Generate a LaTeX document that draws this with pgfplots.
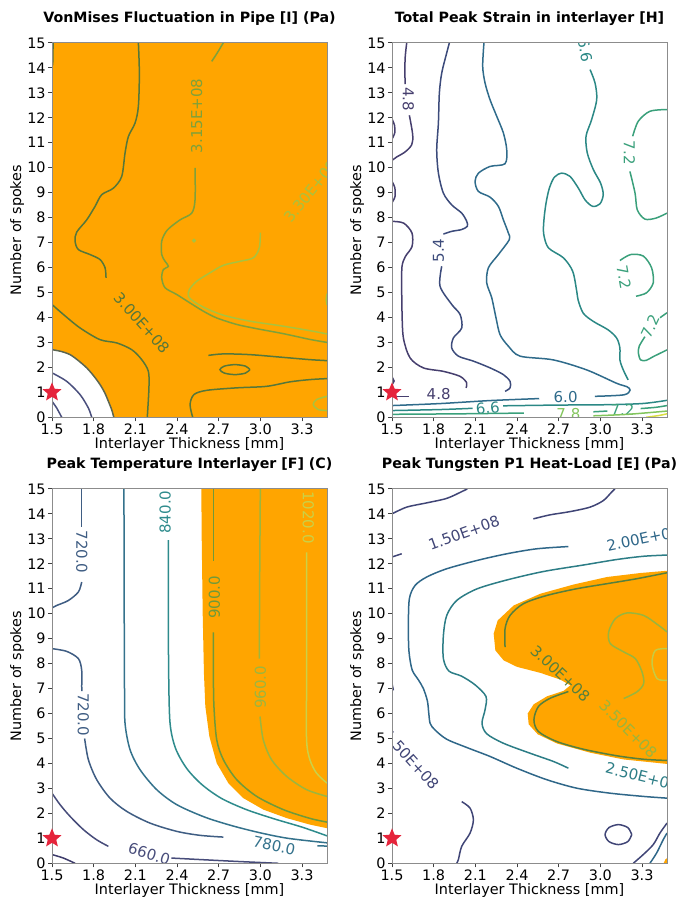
\documentclass[border=0pt]{standalone}
\usepackage{fontspec}
\setmainfont{DejaVu Sans}
\usepackage{pgfplots}
\pgfplotsset{compat=1.18}
\definecolor{orng}{HTML}{FFA500}
\definecolor{redstar}{HTML}{E5243B}
% panel 1
\definecolor{aDark}{HTML}{56773A}
\definecolor{aMid}{HTML}{7EA13A}
\definecolor{aLight}{HTML}{A9C23E}
\definecolor{aBnd}{HTML}{5C6650}
\definecolor{aBlue}{HTML}{4A4F7D}
% panel 2
\definecolor{s48}{HTML}{463F6E}
\definecolor{s54}{HTML}{3C4B7B}
\definecolor{s60}{HTML}{2F6B8B}
\definecolor{s66}{HTML}{2B8885}
\definecolor{s72}{HTML}{3AA07B}
\definecolor{s78}{HTML}{82C55C}
\definecolor{s84}{HTML}{D9DD42}
% panel 3
\definecolor{t600}{HTML}{3E3C6B}
\definecolor{t660}{HTML}{474C7A}
\definecolor{t720}{HTML}{3F5D83}
\definecolor{t780}{HTML}{34728C}
\definecolor{t840}{HTML}{2E8B8C}
\definecolor{t900}{HTML}{6F9A3A}
\definecolor{t960}{HTML}{9CB63E}
\definecolor{t1020}{HTML}{CBD146}
% panel 4
\definecolor{u150}{HTML}{404576}
\definecolor{u200}{HTML}{2F6789}
\definecolor{u250}{HTML}{2C7D86}
\definecolor{u300}{HTML}{56803D}
\definecolor{u350}{HTML}{9AB53C}
\definecolor{u400}{HTML}{C7CB42}

\newcommand\tlfont{\fontsize{7.2}{8}\selectfont}
\newcommand\clfont{\fontsize{7.5}{8}\selectfont}
\newcommand\ttfont{\bfseries\fontsize{7.1}{8.5}\selectfont}

\pgfdeclareplotmark{fstar}{%
  \pgfpathmoveto{\pgfpointpolar{90}{1\pgfplotmarksize}}%
  \pgfpathlineto{\pgfpointpolar{126}{0.45\pgfplotmarksize}}%
  \pgfpathlineto{\pgfpointpolar{162}{1\pgfplotmarksize}}%
  \pgfpathlineto{\pgfpointpolar{198}{0.45\pgfplotmarksize}}%
  \pgfpathlineto{\pgfpointpolar{234}{1\pgfplotmarksize}}%
  \pgfpathlineto{\pgfpointpolar{270}{0.45\pgfplotmarksize}}%
  \pgfpathlineto{\pgfpointpolar{306}{1\pgfplotmarksize}}%
  \pgfpathlineto{\pgfpointpolar{342}{0.45\pgfplotmarksize}}%
  \pgfpathlineto{\pgfpointpolar{18}{1\pgfplotmarksize}}%
  \pgfpathlineto{\pgfpointpolar{54}{0.45\pgfplotmarksize}}%
  \pgfpathclose
  \pgfusepathqfillstroke
}

\tikzset{lab/.style={inner sep=0pt, font=\clfont}}

\pgfplotsset{
 every axis title/.style={at={(axis description cs:0.5,1.0535)}, anchor=base, font=\ttfont},
 panel/.style={
  scale only axis, width=137.5pt, height=187.2pt,
  anchor=south west,
  xmin=1.5, xmax=3.48, ymin=0, ymax=15,
  xtick={1.5,1.8,2.1,2.4,2.7,3.0,3.3},
  xticklabels={1.5,1.8,2.1,2.4,2.7,3.0,3.3},
  ytick={0,1,2,3,4,5,6,7,8,9,10,11,12,13,14,15},
  yticklabels={0,1,2,3,4,5,6,7,8,9,10,11,12,13,14,15},
  tick pos=left, tick align=outside,
  major tick length=2pt,
  every tick/.style={black!75, line width=0.4pt},
  axis line style={black!45, line width=0.5pt},
  tick label style={font=\tlfont},
  yticklabel style={anchor=east, inner sep=1pt},
  xticklabel style={anchor=north, inner sep=1pt},
  xlabel={Interlayer Thickness [mm]}, ylabel={Number of spokes},
  label style={font=\tlfont},
  xlabel style={at={(axis description cs:0.5,-0.083)}, anchor=base},
  ylabel style={at={(axis description cs:-0.1127,0.5)}, anchor=base},
  every axis plot/.append style={line width=0.75pt},
  axis on top,
 },
}

\begin{document}
\begin{tikzpicture}
\useasboundingbox (0,0) rectangle (339.5pt,449.5pt);

% ================= Panel 1 =================
\begin{axis}[panel, at={(26pt,240.85pt)}, title={VonMises Fluctuation in Pipe [I] (Pa)}]
\addplot[fill=orng, draw=none] coordinates {(1.5,15)(3.5,15)(3.5,0)(1.945,0)(1.93,0.3)(1.906,0.64)(1.88,0.98)(1.846,1.31)(1.80,1.66)(1.75,1.98)(1.69,2.27)(1.63,2.51)(1.565,2.64)(1.5,2.71)};
\addplot[aBnd, smooth] coordinates {(1.5,2.71)(1.565,2.64)(1.63,2.51)(1.69,2.27)(1.75,1.98)(1.80,1.66)(1.846,1.31)(1.88,0.98)(1.906,0.64)(1.93,0.3)(1.945,0)};
\addplot[aBlue, smooth] coordinates {(1.5,1.78)(1.606,1.44)(1.702,0.91)(1.762,0.37)(1.786,0)};
\addplot[aBlue, smooth] coordinates {(1.5,0.64)(1.534,0.37)(1.57,0)};
\addplot[aDark] coordinates {(1.508,15)(1.505,14.1)};
\addplot[aDark, smooth] coordinates {(2.122,15)(2.129,13.79)(2.122,12.46)(2.098,11.79)(2.05,11.25)(2.026,10.59)(2.002,9.65)(1.942,9.18)(1.858,8.92)(1.81,8.45)(1.75,7.91)(1.678,7.42)(1.666,7.06)(1.69,6.72)(1.774,6.52)(1.846,6.32)(1.882,5.99)(1.889,5.59)};
\addplot[aDark, smooth] coordinates {(1.5,4.52)(1.582,4.12)(1.702,3.58)(1.846,3.11)(1.966,2.98)(2.074,2.71)(2.146,2.31)(2.194,1.84)(2.198,1.17)(2.186,0)};
\node[lab, rotate=-48, text=aDark] at (axis cs:2.146,3.78) {3.00E+08};
\addplot[aMid, smooth] coordinates {(2.733,15)(2.69,14.6)(2.65,14.26)};
\node[lab, rotate=90, text=aMid] at (axis cs:2.542,12.08) {3.15E+08};
\addplot[aMid, smooth] coordinates {(2.53,9.99)(2.53,8.72)(2.506,8.18)(2.422,7.91)(2.33,7.5)(2.29,7.06)(2.29,6.52)(2.314,6.25)(2.338,6.05)(2.302,5.92)(2.29,5.59)(2.314,5.19)(2.398,4.92)(2.494,4.58)(2.59,4.25)(2.686,3.98)(2.83,3.72)(2.974,3.55)(3.166,3.35)(3.357,3.12)(3.48,3.0)};
\addplot[aLight, smooth] coordinates {(3.0,7.4)(2.993,6.79)(2.95,6.39)(2.854,6.25)(2.734,6.09)(2.638,5.79)(2.542,5.45)(2.489,5.12)(2.482,4.85)(2.518,4.65)(2.602,4.38)(2.734,4.09)(2.926,3.85)(3.166,3.65)(3.357,3.47)(3.48,3.34)};
\addplot[aLight, only marks, mark=*, mark size=0.6pt] coordinates {(2.522,7.08)};
\node[lab, rotate=51, text=aLight] at (axis cs:3.36,9.06) {3.30E+08};
\addplot[aLight] coordinates {(3.48,4.95)(3.474,4.72)(3.48,4.5)};
\addplot[aDark, smooth] coordinates {(2.626,2.48)(2.734,2.54)(2.926,2.51)(3.166,2.40)(3.357,2.31)(3.48,2.27)};
\addplot[aDark, smooth] coordinates {(2.925,1.91)(2.893,2.05)(2.817,2.11)(2.741,2.05)(2.709,1.91)(2.741,1.77)(2.817,1.71)(2.893,1.77)(2.925,1.91)};
\addplot[aDark, smooth] coordinates {(2.513,0)(2.494,0.51)(2.522,0.91)(2.614,1.08)(2.83,1.18)(3.045,1.24)(3.213,1.42)(3.357,1.51)(3.48,1.55)};
\addplot[aLight, smooth] coordinates {(3.48,0.84)(3.405,0.71)(3.381,0.51)(3.417,0.31)(3.48,0.27)};
\addplot[only marks, mark=fstar, mark size=4pt, color=redstar] coordinates {(1.5,1)};
\end{axis}

% ================= Panel 2 =================
\begin{axis}[panel, at={(196pt,240.85pt)}, title={Total Peak Strain in interlayer [H]}]
\addplot[s48, smooth] coordinates {(1.606,15)(1.594,14.33)(1.594,13.35)};
\node[lab, rotate=-90, text=s48] at (axis cs:1.618,12.75) {4.8};
\addplot[s48, smooth] coordinates {(1.625,12.1)(1.649,11.32)(1.642,10.92)(1.594,10.63)(1.534,10.43)(1.5,10.29)};
\addplot[s48, smooth] coordinates {(1.5,11.95)(1.518,11.7)(1.52,11.4)(1.5,11.15)};
\addplot[s48, smooth] coordinates {(1.5,9.45)(1.52,9.2)(1.522,8.85)(1.5,8.6)};
\addplot[s48, smooth] coordinates {(1.5,7.85)(1.584,7.78)(1.644,7.38)(1.644,6.84)(1.596,6.44)(1.572,6.04)(1.57,5.2)(1.572,4.25)(1.582,3.18)(1.63,2.38)(1.726,1.98)(1.87,1.84)(1.99,1.64)(2.038,1.38)(2.033,1.18)};
\addplot[s48] coordinates {(1.5,1.63)(1.515,1.45)(1.5,1.3)};
\addplot[s48] coordinates {(1.5,0.83)(1.62,0.83)};
\node[lab, text=s48] at (axis cs:1.836,0.92) {4.8};
\addplot[s54, smooth] coordinates {(1.913,15)(1.894,14.6)(1.858,13.79)(1.841,12.99)(1.834,11.79)(1.822,10.72)(1.834,9.79)(1.87,8.98)(1.93,8.51)(2.002,8.18)(2.038,7.85)(2.042,7.65)(2.0,7.52)(1.93,7.45)(1.87,7.34)};
\node[lab, rotate=90, text=s54] at (axis cs:1.834,6.68) {5.4};
\addplot[s54, smooth] coordinates {(1.858,6.05)(1.846,5.25)(1.93,4.52)(1.99,4.12)(2.002,3.58)(1.942,3.18)(1.93,2.78)(1.978,2.45)(2.086,2.25)(2.206,1.98)(2.302,1.71)(2.35,1.44)(2.35,1.18)(2.314,1.04)};
\addplot[s60, smooth] coordinates {(2.162,15)(2.153,14.06)(2.17,13.39)(2.206,12.72)(2.254,12.06)(2.302,11.39)(2.326,10.72)(2.314,10.16)(2.206,10.05)(2.122,9.78)(2.098,9.45)(2.122,9.05)(2.206,8.82)(2.266,8.45)(2.302,7.91)(2.338,7.38)(2.345,7.12)(2.266,6.52)(2.194,5.99)(2.182,5.39)(2.218,4.79)(2.249,3.98)(2.278,3.31)(2.338,2.85)(2.422,2.45)(2.661,2.30)(2.901,1.9)(3.118,1.36)(3.19,1.23)(3.214,1.09)(3.17,0.9)(2.96,0.84)};
\node[lab, text=s60] at (axis cs:2.75,0.82) {6.0};
\addplot[s60, smooth] coordinates {(2.56,0.75)(2.206,0.67)(1.846,0.55)(1.5,0.47)};
\node[lab, rotate=-80, text=s66] at (axis cs:2.89,14.7) {6.6};
\addplot[s66, smooth] coordinates {(2.926,13.93)(2.962,13.39)(2.974,12.73)(2.937,11.92)(2.897,11.26)(2.906,10.59)(2.95,9.92)(3.002,9.38)(3.021,8.92)(2.997,8.55)(2.945,8.45)(2.89,8.71)(2.842,9.18)(2.782,9.65)(2.722,9.78)(2.669,9.62)(2.633,9.18)(2.609,8.58)(2.594,7.91)(2.592,7.35)(2.626,6.79)(2.734,6.39)(2.801,5.85)(2.83,5.05)(2.84,4.7)(2.877,4.17)(2.95,3.84)(3.057,3.5)(3.118,3.17)(3.141,2.77)(3.141,2.3)(3.165,1.9)(3.2,1.5)};
\addplot[s66, smooth] coordinates {(1.5,0.27)(1.846,0.31)(2.08,0.36)};
\node[lab, rotate=5, text=s66] at (axis cs:2.19,0.36) {6.6};
\addplot[s66, smooth] coordinates {(2.3,0.46)(2.7,0.49)(3.0,0.5)(3.3,0.55)(3.48,0.68)};
\addplot[s72, smooth] coordinates {(1.5,0.12)(2.0,0.14)(2.45,0.17)};
\node[lab, text=s78] at (axis cs:2.77,0.15) {7.8};
\addplot[s72, smooth] coordinates {(2.95,0.22)(3.05,0.25)};
\node[lab, text=s72] at (axis cs:3.16,0.3) {7.2};
\addplot[s72, smooth] coordinates {(3.29,0.35)(3.4,0.4)(3.48,0.47)};
\addplot[s78, smooth] coordinates {(2.95,0.06)(3.2,0.12)(3.48,0.25)};
\addplot[s84, smooth] coordinates {(3.33,0.0)(3.42,0.07)(3.48,0.14)};
\addplot[s72, smooth] coordinates {(3.48,12.33)(3.357,12.26)(3.273,11.86)(3.233,11.26)};
\node[lab, rotate=-90, text=s72] at (axis cs:3.209,10.6) {7.2};
\addplot[s72, smooth] coordinates {(3.213,9.85)(3.25,8.98)(3.266,8.31)(3.321,7.94)(3.40,7.98)(3.48,8.18)};
\addplot[s72, smooth] coordinates {(3.141,6.28)(3.218,6.52)(3.309,6.46)(3.369,5.99)(3.381,5.39)(3.333,4.99)(3.257,4.85)};
\node[lab, rotate=-80, text=s72] at (axis cs:3.17,5.62) {7.2};
\addplot[s72] coordinates {(3.48,4.19)(3.43,3.99)};
\node[lab, rotate=65, text=s72] at (axis cs:3.36,3.63) {7.2};
\addplot[s72, smooth] coordinates {(3.321,3.23)(3.28,2.85)(3.274,2.57)(3.29,2.3)(3.33,2.28)(3.381,2.43)(3.48,2.7)};
\addplot[only marks, mark=fstar, mark size=4pt, color=redstar] coordinates {(1.5,1)};
\end{axis}

% ================= Panel 3 =================
\begin{axis}[panel, at={(26pt,17.85pt)}, title={Peak Temperature Interlayer [F] (C)}]
\addplot[fill=orng, draw=none] coordinates {(2.575,15)(3.5,15)(3.5,1.41)(3.477,1.41)(3.357,1.55)(3.19,1.81)(3.022,2.15)(2.878,2.61)(2.77,3.21)(2.686,4.01)(2.633,5.08)(2.604,6.28)(2.594,7.61)(2.585,10)(2.578,13)};
\addplot[t600, smooth] coordinates {(1.5,0.35)(1.582,0.21)(1.666,0)};
\addplot[t660, smooth] coordinates {(1.5,2.81)(1.558,2.35)(1.63,1.88)(1.726,1.35)(1.822,0.94)(1.906,0.68)};
\node[lab, rotate=-18, text=t660] at (axis cs:2.2,0.38) {660.0};
\addplot[t660, smooth] coordinates {(2.36,0.21)(2.6,0.14)(2.85,0.07)(3.13,0.0)};
\addplot[t720, smooth] coordinates {(1.714,15)(1.714,13.47)};
\node[lab, rotate=-90, text=t720] at (axis cs:1.714,12.47) {720.0};
\addplot[t720, smooth] coordinates {(1.714,11.27)(1.69,10.87)(1.618,10.53)(1.534,10.33)(1.5,10.23)};
\addplot[t720, smooth] coordinates {(1.5,8.6)(1.606,8.49)(1.69,8.2)(1.714,7.73)(1.714,7.08)(1.716,6.9)};
\node[lab, rotate=-90, text=t720] at (axis cs:1.726,5.95) {720.0};
\addplot[t720, smooth] coordinates {(1.735,5.0)(1.762,4.15)(1.822,3.35)(1.918,2.61)(2.038,2.08)(2.206,1.61)(2.398,1.28)(2.566,1.12)(2.734,1.05)};
\node[lab, rotate=-12, text=t780] at (axis cs:3.1,0.72) {780.0};
\addplot[t780] coordinates {(3.41,0.70)(3.48,0.69)};
\addplot[t780, smooth] coordinates {(2.018,15)(2.02,10)(2.022,7)(2.026,5.6)(2.062,4.55)(2.134,3.75)(2.254,2.95)(2.398,2.35)(2.6,1.85)(2.8,1.5)(3.0,1.22)(3.2,1.0)(3.48,0.82)};
\node[lab, rotate=90, text=t840] at (axis cs:2.314,14.07) {840.0};
\addplot[t840, smooth] coordinates {(2.338,12.95)(2.338,10)(2.34,7.61)(2.35,5.61)(2.39,4.6)(2.47,3.8)(2.58,3.15)(2.72,2.6)(2.9,2.15)(3.1,1.78)(3.3,1.45)(3.48,1.1)};
\addplot[t900, smooth] coordinates {(2.662,15)(2.662,12.1)};
\node[lab, rotate=90, text=t900] at (axis cs:2.67,10.65) {900.0};
\addplot[t900, smooth] coordinates {(2.662,9.25)(2.662,7.61)(2.666,6.28)(2.686,4.95)(2.734,4.15)(2.83,3.35)(2.974,2.68)(3.166,2.15)(3.357,1.8)(3.48,1.65)};
\addplot[t960, smooth] coordinates {(3.0,15)(2.995,11)(2.993,8.2)};
\node[lab, rotate=90, text=t960] at (axis cs:3.0,7.05) {960.0};
\addplot[t960, smooth] coordinates {(2.998,5.88)(3.021,4.95)(3.081,4.15)(3.19,3.48)(3.333,2.95)(3.48,2.68)};
\node[lab, rotate=-90, text=t1020] at (axis cs:3.345,13.85) {1020.0};
\addplot[t1020, smooth] coordinates {(3.333,12.46)(3.333,7.4)(3.333,4.95)(3.357,4.15)(3.405,3.61)(3.48,3.21)};
\addplot[only marks, mark=fstar, mark size=4pt, color=redstar] coordinates {(1.5,1)};
\end{axis}

% ================= Panel 4 =================
\begin{axis}[panel, at={(196pt,17.85pt)}, title={Peak Tungsten P1 Heat-Load [E] (Pa)}]
\addplot[fill=orng, draw=none] coordinates {(3.5,11.73)(3.288,11.63)(3.048,11.47)(2.808,11.17)(2.568,10.8)(2.376,10.33)(2.261,9.73)(2.232,9.2)(2.244,8.53)(2.304,8.13)(2.4,7.87)(2.568,7.63)(2.712,7.36)(2.784,7.13)(2.736,6.91)(2.616,6.69)(2.52,6.37)(2.477,6.0)(2.484,5.57)(2.549,5.17)(2.688,4.8)(2.928,4.43)(3.168,4.16)(3.5,3.97)};
\addplot[fill=orng, draw=none] coordinates {(3.455,0)(3.5,0)(3.5,0.3)(3.468,0.15)};
\addplot[u150, smooth] coordinates {(1.5,14.0)(1.606,14.27)(1.75,14.44)(1.894,14.62)(2.002,14.89)(2.042,15)};
\addplot[u150] coordinates {(1.5,12.27)(1.57,12.4)};
\node[lab, rotate=20, text=u150] at (axis cs:2.018,13.24) {1.50E+08};
\addplot[u150, smooth] coordinates {(2.518,13.8)(2.638,13.96)(2.782,14.09)(2.926,14.27)(3.021,14.53)(3.081,14.87)(3.105,15)};
\addplot[u200, smooth] coordinates {(2.77,12.69)(2.542,12.6)(2.326,12.4)(2.11,12.13)(1.894,11.8)(1.75,11.47)(1.666,11.13)(1.625,10.6)(1.618,9.53)(1.622,8.5)(1.645,7.75)(1.69,7.35)(1.726,7.0)(1.755,6.5)(1.765,6.0)(1.775,5.6)(1.81,5.34)(1.894,4.97)(2.038,4.64)(2.206,4.28)(2.398,3.81)(2.614,3.35)(2.83,3.01)(3.069,2.81)(3.309,2.68)(3.48,2.61)};
\node[lab, rotate=12, text=u200] at (axis cs:3.31,13.0) {2.00E+08};
\addplot[u250, smooth] coordinates {(3.48,12.35)(3.309,12.3)(3.117,12.17)(2.878,11.95)(2.59,11.69)(2.326,11.35)(2.11,10.99)(1.966,10.53)(1.894,9.93)(1.87,9.13)(1.87,8.2)(1.91,7.7)(2.0,7.5)(2.098,7.15)(2.177,6.68)(2.17,6.15)(2.148,5.61)(2.182,5.19)(2.302,4.81)(2.494,4.41)(2.662,4.08)(2.77,3.81)};
\node[lab, rotate=-14, text=u250] at (axis cs:3.3,3.48) {2.50E+08};
\addplot[u300, smooth] coordinates {(2.314,8.66)(2.314,9.4)(2.35,9.93)(2.446,10.4)(2.614,10.73)(2.83,11.0)(3.045,11.2)(3.261,11.4)(3.48,11.64)};
\addplot[u300, smooth] coordinates {(2.77,6.88)(2.638,6.61)(2.554,6.28)(2.522,5.75)(2.554,5.28)(2.686,4.88)(2.878,4.57)(3.117,4.31)(3.309,4.17)(3.48,4.12)};
\node[lab, rotate=-43, text=u300] at (axis cs:2.712,7.6) {3.00E+08};
\addplot[u350, smooth] coordinates {(3.48,9.27)(3.42,9.53)(3.312,9.93)(3.192,10.03)(3.108,9.8)(3.06,9.27)(3.072,8.8)(3.168,8.47)(3.252,8.2)(3.3,7.67)(3.312,7.2)(3.264,6.87)(3.168,6.6)};
\node[lab, rotate=-45, text=u350] at (axis cs:3.201,5.37) {3.50E+08};
\addplot[u400, smooth] coordinates {(3.48,8.6)(3.396,8.53)(3.372,8.0)(3.408,7.4)(3.48,7.33)};
\node[lab, rotate=-48, text=u150] at (axis cs:1.637,4.15) {1.50E+08};
\addplot[u150] coordinates {(1.5,7.2)(1.51,6.93)};
\addplot[u150, smooth] coordinates {(2.002,2.47)(2.062,2.21)(2.086,1.74)(2.062,1.21)(2.002,0.68)(1.978,0.15)(1.966,0)};
\addplot[u150, smooth] coordinates {(3.226,1.15)(3.198,1.43)(3.13,1.55)(3.062,1.43)(3.034,1.15)(3.062,0.87)(3.13,0.75)(3.198,0.87)(3.226,1.15)};
\addplot[u150, smooth] coordinates {(3.237,0)(3.309,0.35)(3.381,0.75)(3.429,1.21)(3.48,1.61)};
\addplot[u200, smooth] coordinates {(3.357,0)(3.405,0.41)(3.453,0.95)(3.48,1.21)};
\addplot[only marks, mark=fstar, mark size=4pt, color=redstar] coordinates {(1.5,1)};
\end{axis}
\end{tikzpicture}
\end{document}
